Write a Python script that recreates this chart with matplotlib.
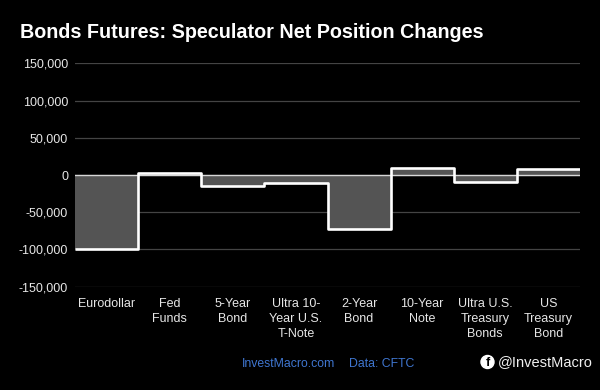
import matplotlib
matplotlib.use("Agg")
import matplotlib.pyplot as plt
from matplotlib.patches import Circle

categories = [
    "Eurodollar",
    "Fed\nFunds",
    "5-Year\nBond",
    "Ultra 10-\nYear U.S.\nT-Note",
    "2-Year\nBond",
    "10-Year\nNote",
    "Ultra U.S.\nTreasury\nBonds",
    "US\nTreasury\nBond",
]
net_changes = [-99500, 3000, -14800, -10300, -73000, 9000, -9000, 8000]
y_ticks = [-150000, -100000, -50000, 0, 50000, 100000, 150000]

W, H = 600, 390

plt.rcParams["font.family"] = ["Liberation Sans", "DejaVu Sans"]

fig = plt.figure(figsize=(W / 100, H / 100), dpi=100, facecolor="black")
ax = fig.add_axes([75 / W, 1 - 286.6 / H, 505 / W, 223.2 / H], facecolor="black")

edges = list(range(len(categories) + 1))
ax.stairs(net_changes, edges, baseline=0, fill=True, color="#545454", zorder=2)
ax.axhline(0, color="#d8d8d8", lw=1.0, zorder=3)
ax.stairs(net_changes, edges, baseline=None, color="white", lw=1.9,
          joinstyle="round", capstyle="butt", zorder=4)

ax.set_xlim(0, len(categories))
ax.set_ylim(-150000, 150000)
ax.set_yticks(y_ticks)
ax.set_yticklabels([f"{v:,}" for v in y_ticks])
ax.set_xticks([i + 0.5 for i in range(len(categories))])
ax.set_xticklabels(categories, linespacing=1.32)
ax.tick_params(axis="both", length=0, colors="#e6e6e6", labelsize=9)
ax.tick_params(axis="y", pad=5)
ax.tick_params(axis="x", pad=8.5)
ax.grid(axis="y", color="#444444", lw=0.9, zorder=1)
ax.set_axisbelow(True)
for spine in ax.spines.values():
    spine.set_visible(False)

fig.text(20 / W, 1 - 32 / H, "Bonds Futures: Speculator Net Position Changes",
         color="white", fontsize=14.25, fontweight="bold", va="center", ha="left")
fig.text(242 / W, 1 - 364 / H, "InvestMacro.com", color="#3f76d0", fontsize=8.8,
         va="center", ha="left")
fig.text(349 / W, 1 - 364 / H, "Data: CFTC", color="#3f76d0", fontsize=8.8,
         va="center", ha="left")

# facebook badge: white disc with a black f, placed in pixel coordinates
fig.add_artist(Circle((487.5, H - 362), 6.5, color="white", transform=None))
fig.text(488 / W, 1 - 362.5 / H, "f", color="black", fontsize=9, fontweight="bold",
         va="center", ha="center")
fig.text(498 / W, 1 - 362 / H, "@InvestMacro", color="#f0f0f0", fontsize=10.5,
         va="center", ha="left")

fig.savefig("out.png", dpi=100, facecolor="black")
